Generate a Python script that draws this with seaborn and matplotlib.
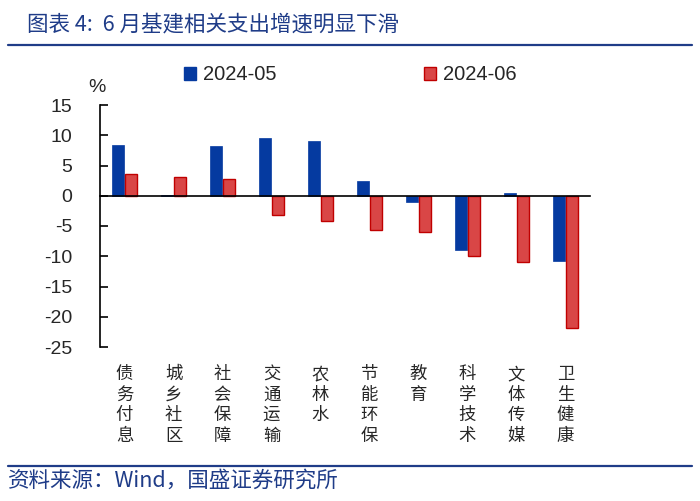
import pandas as pd
import matplotlib
matplotlib.use("Agg")
import matplotlib.pyplot as plt
from matplotlib.patches import Patch
from matplotlib.lines import Line2D
import seaborn as sns

# data
categories = ["债务付息", "城乡社区", "社会保障", "交通运输", "农林水",
              "节能环保", "教育", "科学技术", "文体传媒", "卫生健康"]
series = ["2024-05", "2024-06"]
may_values = [8.4, 0.2, 8.3, 9.6, 9.1, 2.5, -1.0, -9.0, 0.5, -10.8]
jun_values = [3.6, 3.1, 2.7, -3.2, -4.2, -5.7, -6.0, -10.0, -11.0, -21.8]
y_ticks = [15, 10, 5, 0, -5, -10, -15, -20, -25]

BLUE = "#053AA0"
RED = "#D94646"
RED_EDGE = "#C00000"
TITLE_BLUE = "#1F3C88"

df = pd.DataFrame({
    "category": categories * 2,
    "series": [series[0]] * len(categories) + [series[1]] * len(categories),
    "value": may_values + jun_values,
})

sns.set_theme(style="white")
plt.rcParams["font.family"] = ["Liberation Sans", "Noto Sans CJK SC", "DejaVu Sans"]
plt.rcParams["axes.unicode_minus"] = False

fig = plt.figure(figsize=(7, 5.01), dpi=100)
ax = fig.add_axes([100 / 700, 1 - 347 / 501, 490 / 700, 242 / 501])

sns.barplot(data=df, x="category", y="value", hue="series",
            order=categories, hue_order=series,
            palette=[BLUE, RED], saturation=1, width=0.54, gap=0.06,
            legend=False, ax=ax)

for bar in ax.containers[0]:
    bar.set_edgecolor(BLUE)
    bar.set_linewidth(0.5)
for bar in ax.containers[1]:
    bar.set_edgecolor(RED_EDGE)
    bar.set_linewidth(1.0)

ax.set_xlim(-0.5, len(categories) - 0.5)
ax.set_ylim(-25, 15)
ax.set_yticks(y_ticks)
ax.set_xlabel("")
ax.set_ylabel("")

# axis styling: spine along zero, ticks at category boundaries
ax.spines["bottom"].set_position(("data", 0))
ax.spines["top"].set_visible(False)
ax.spines["right"].set_visible(False)
for side in ["left", "bottom"]:
    ax.spines[side].set_color("black")
    ax.spines[side].set_linewidth(1.2)

ax.set_xticks([i + 0.5 for i in range(-1, len(categories))], minor=True)
ax.tick_params(axis="x", which="major", length=0, labelbottom=False)
ax.tick_params(axis="x", which="minor", direction="out", length=6, width=1.2, color="black")
ax.tick_params(axis="y", direction="in", length=6, width=1.2, color="black",
               labelsize=14, pad=20, left=True)

# vertical category labels under the plot
for i, name in enumerate(categories):
    ax.text(i, -0.075, "\n".join(name), transform=ax.get_xaxis_transform(),
            ha="center", va="top", fontsize=12.5, linespacing=1.18,
            family=["Noto Sans CJK SC", "DejaVu Sans"])

fig.text(97 / 700, 1 - 88 / 501, "%", ha="center", va="center", fontsize=14)

handles = [Patch(facecolor=BLUE, edgecolor=BLUE),
           Patch(facecolor=RED, edgecolor=RED_EDGE)]
fig.legend(handles, series, loc="center left", bbox_to_anchor=(184 / 700, 1 - 75 / 501),
           ncol=2, frameon=False, fontsize=14.5, borderpad=0, borderaxespad=0,
           handlelength=0.6, handleheight=0.6, handletextpad=0.35, columnspacing=7.3)

# title, footer and separator lines
fig.text(27 / 700, 1 - 24 / 501, "图表 4:  6 月基建相关支出增速明显下滑",
         ha="left", va="center", fontsize=15.5, color=TITLE_BLUE,
         family=["Noto Sans CJK SC", "DejaVu Sans"])
fig.add_artist(Line2D([8 / 700, 692 / 700], [1 - 45 / 501] * 2, color=TITLE_BLUE, lw=1.6))
fig.add_artist(Line2D([8 / 700, 692 / 700], [1 - 466 / 501] * 2, color=TITLE_BLUE, lw=1.6))
fig.text(8 / 700, 1 - 481 / 501, "资料来源：Wind，国盛证券研究所",
         ha="left", va="center", fontsize=15.5, color=TITLE_BLUE,
         family=["Noto Sans CJK SC", "DejaVu Sans"])

fig.savefig("out.png", dpi=100)
plt.close(fig)
